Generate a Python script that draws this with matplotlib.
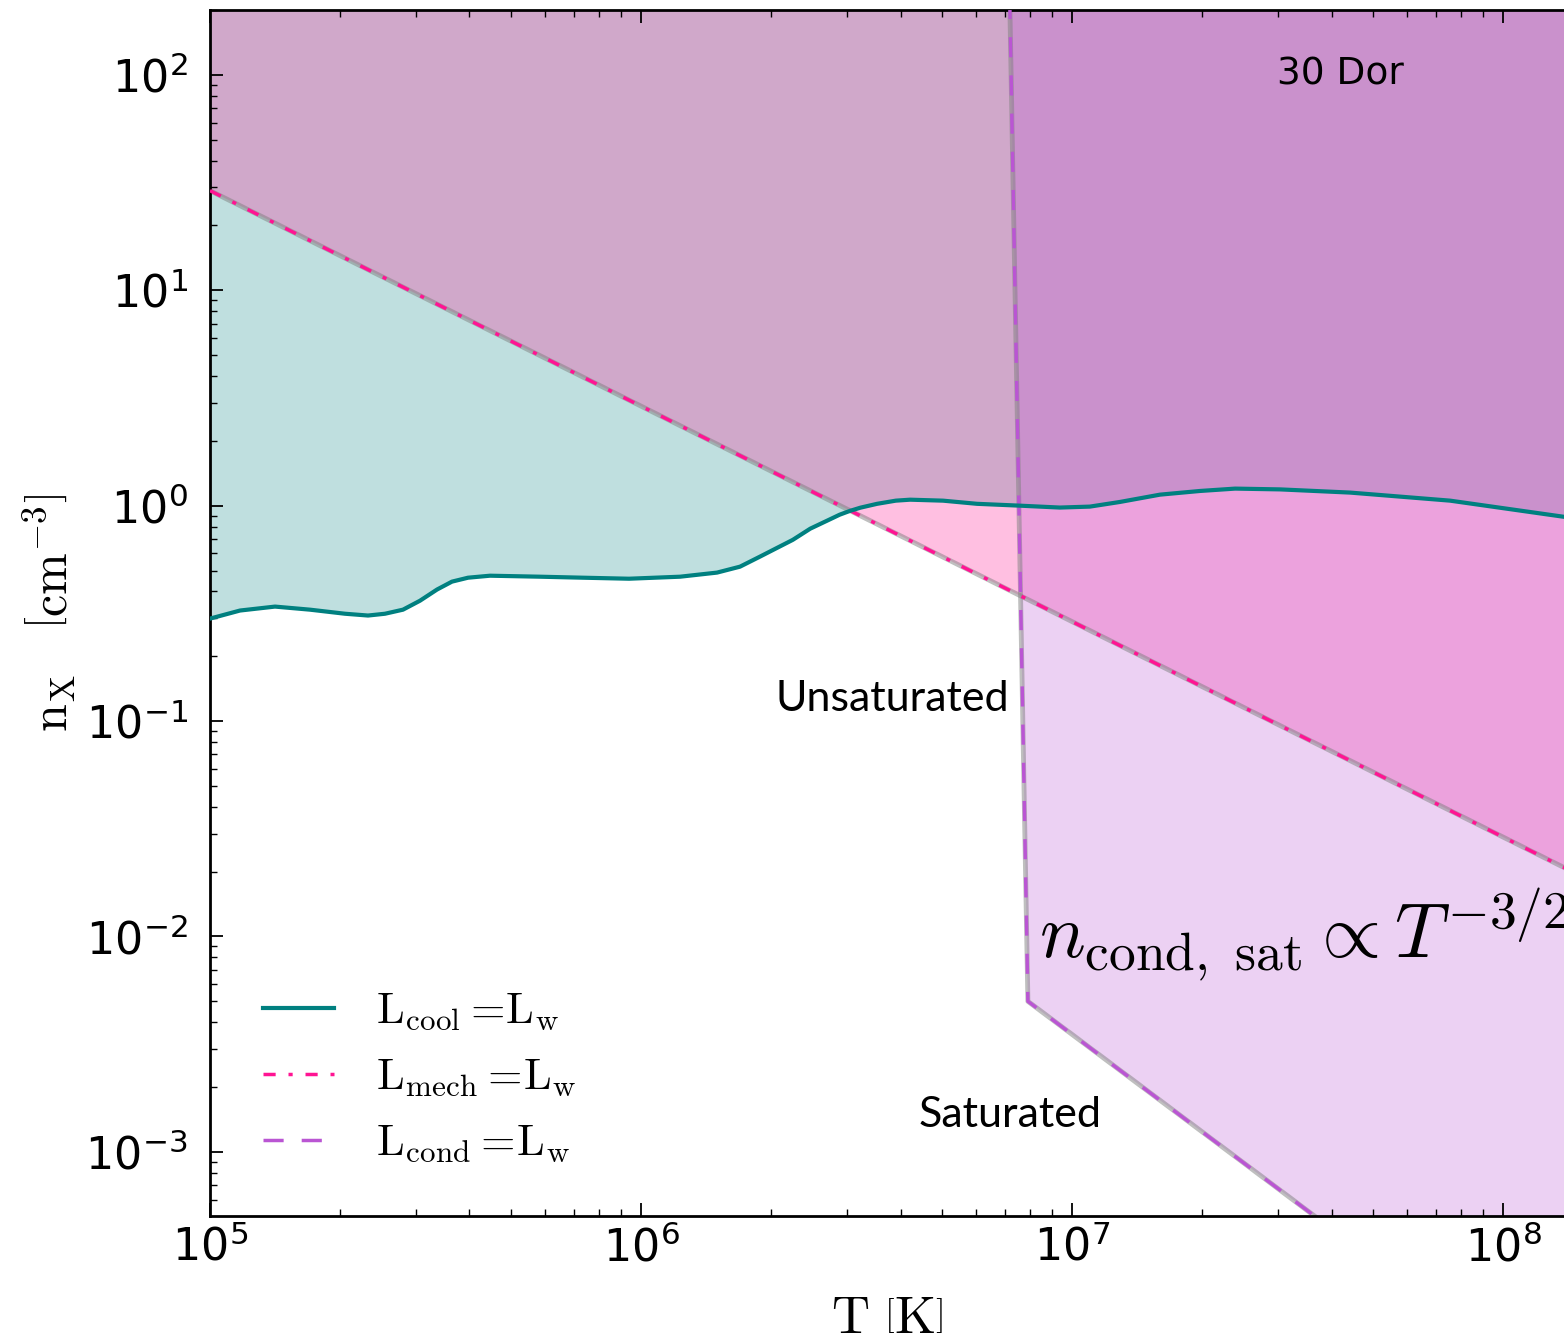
"""
plot.py

Density-temperature diagram of the hot X-ray gas: where cooling,
mechanical and conductive losses balance the wind luminosity.
"""

#####################################
# Import Modules
#####################################

import matplotlib
matplotlib.use("Agg")
import matplotlib.pyplot as plt

#####################################
# Data
#####################################

# L_cool = L_w curve (temperature in K, density in cm^-3)
T_COOL = [1.0e5, 1.174e5, 1.415e5, 1.706e5, 2.057e5, 2.326e5, 2.547e5, 2.804e5,
          3.07e5, 3.363e5, 3.643e5, 3.969e5, 4.463e5, 5.83e5, 7.335e5, 9.38e5,
          1.232e6, 1.501e6, 1.697e6, 1.888e6, 2.05e6, 2.25e6, 2.47e6, 2.70e6,
          2.89e6, 3.05e6, 3.23e6, 3.53e6, 3.9e6, 4.21e6, 5.02e6, 6.02e6, 7.57e6,
          9.37e6, 1.10e7, 1.29e7, 1.60e7, 1.98e7, 2.39e7, 3.04e7, 4.42e7,
          7.54e7, 1.40e8]
N_COOL = [0.299, 0.326, 0.340, 0.329, 0.315, 0.309, 0.315, 0.329,
          0.362, 0.408, 0.444, 0.463, 0.473, 0.468, 0.463, 0.458,
          0.468, 0.489, 0.521, 0.580, 0.631, 0.694, 0.782, 0.851,
          0.908, 0.945, 0.979, 1.02, 1.055, 1.066, 1.055, 1.02, 1.0,
          0.98, 0.99, 1.04, 1.125, 1.17, 1.20, 1.19, 1.15,
          1.055, 0.885]

# L_mech = L_w line
T_MECH = [1.0e5, 1.5e8]
N_MECH = [29.0, 0.0193]

# L_cond = L_w line (unsaturated, then saturated branch)
T_COND = [7.15e6, 7.9e6, 4.0e7]
N_COND = [300.0, 5.0e-3, 4.4e-4]

LEGEND_LABELS = [r"$\mathrm{L_{cool}=\!L_w}$",
                 r"$\mathrm{L_{mech}=\!L_w}$",
                 r"$\mathrm{L_{cond}=\!L_w}$"]

X_LIM = (1.0e5, 1.385e8)
Y_LIM = (5.04e-4, 200.0)

TEAL = "teal"
PINK = "deeppink"
ORCHID = "mediumorchid"

#####################################
# Figure setup
#####################################

plt.rcParams["axes.unicode_minus"] = False

fig = plt.figure(figsize=(15.64, 13.44), dpi=100)
ax = fig.add_axes([210 / 1564, 1 - 1216 / 1344, 1 - 210 / 1564, 1206 / 1344])
ax.set_xscale("log")
ax.set_yscale("log")

#####################################
# Shaded regions (overlapping translucent layers)
#####################################

far_top = 1.0e4
far_right = 1.0e10

# above the cooling curve
ax.fill(T_COOL + [T_COOL[-1], T_COOL[0]], N_COOL + [far_top, far_top],
        color=TEAL, alpha=0.25, lw=0, zorder=1)
# above the mechanical line
ax.fill(T_MECH + [T_MECH[-1], T_MECH[0]], N_MECH + [far_top, far_top],
        color=PINK, alpha=0.27, lw=0, zorder=1)
# right of the conduction line
ax.fill(T_COND + [far_right, far_right], N_COND + [N_COND[-1], N_COND[0]],
        color=ORCHID, alpha=0.27, lw=0, zorder=1)

# grey region edges under the dashed lines
ax.plot(T_MECH, N_MECH, color="gray", alpha=0.5, lw=3.5, zorder=2)
ax.plot(T_COND, N_COND, color="gray", alpha=0.5, lw=3.5, zorder=2)

#####################################
# Lines
#####################################

ax.plot(T_COOL, N_COOL, color=TEAL, lw=3, zorder=4, label=LEGEND_LABELS[0],
        solid_joinstyle="round")
ax.plot(T_MECH, N_MECH, color=PINK, lw=2.5, dashes=(3.5, 3.7, 1.2, 3.7),
        zorder=3, label=LEGEND_LABELS[1])
ax.plot(T_COND, N_COND, color=ORCHID, lw=2.5, dashes=(5.8, 5.2),
        zorder=3, label=LEGEND_LABELS[2])

#####################################
# Annotations
#####################################

ax.text(2.99e7, 89.9, "30 Dor", fontsize=27, family="DejaVu Sans", va="baseline")
ax.text(2.05e6, 0.111, "Unsaturated", fontsize=31, family="Lato", va="baseline")
ax.text(4.4e6, 1.3e-3, "Saturated", fontsize=31, family="Lato", va="baseline")
ax.text(8.4e6, 7.9e-3, r"$n_{\rm cond,\ sat} \propto T^{-3/2}$",
        fontsize=55, math_fontfamily="cm", va="baseline", clip_on=False)

#####################################
# Axes styling
#####################################

ax.set_xlim(*X_LIM)
ax.set_ylim(*Y_LIM)

ax.tick_params(which="major", direction="in", length=9.5, width=1.3,
               top=True, right=False, labelsize=32)
ax.tick_params(which="minor", direction="in", length=5, width=1,
               top=True, right=False)
ax.tick_params(axis="x", which="major", pad=7)
ax.tick_params(axis="y", which="major", pad=16)

ax.spines["right"].set_visible(False)
for side in ["left", "bottom", "top"]:
    ax.spines[side].set_linewidth(2)

ax.set_xlabel(r"$\mathrm{T}\ \left[\mathrm{K}\right]$", fontsize=38,
              math_fontfamily="cm")
ax.set_ylabel(r"$\mathrm{n_X}\quad\left[\mathrm{cm}^{-3}\right]$", fontsize=36,
              math_fontfamily="cm")
ax.xaxis.set_label_coords(0.5, -0.063)
ax.yaxis.set_label_coords(-0.097, 0.5)

leg = ax.legend(loc="center left", bbox_to_anchor=(0.039, 0.1148),
                frameon=False, fontsize=32, handlelength=1.6,
                handletextpad=0.95, labelspacing=0.5, borderpad=0,
                borderaxespad=0)
for txt in leg.get_texts():
    txt.set_math_fontfamily("cm")

fig.savefig("out.png", dpi=100)
